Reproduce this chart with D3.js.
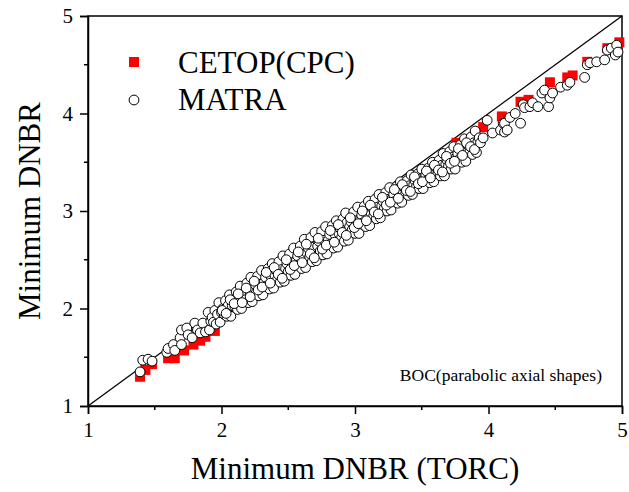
<!DOCTYPE html>
<html>
<head>
<meta charset="utf-8">
<script src="https://cdn.jsdelivr.net/npm/d3@7"></script>
<style>
  body { margin: 0; background: #fff; }
  text { font-family: "Liberation Serif", "Times New Roman", serif; fill: #000; }
</style>
</head>
<body>
<div id="chart"></div>
<script>
// MATRA points: TORC minimum DNBR (x) and MATRA minimum DNBR (y)
const matraX = [
  1.39, 1.41, 1.45, 1.48, 1.59, 1.60, 1.64, 1.65, 1.69, 1.70, 1.70, 1.74, 1.75, 1.78, 1.80, 1.82, 1.84, 1.86, 1.88,
  1.90, 1.91, 1.92, 1.93, 1.94, 1.95, 1.96, 1.97, 1.98, 1.99, 2.00, 2.01, 2.02, 2.03, 2.04, 2.05,
  2.06, 2.07, 2.08, 2.09, 2.10, 2.11, 2.12, 2.13, 2.14, 2.15, 2.16, 2.17, 2.18, 2.19, 2.20, 2.21,
  2.22, 2.23, 2.24, 2.25, 2.26, 2.27, 2.28, 2.29, 2.30, 2.31, 2.32, 2.33, 2.34, 2.35, 2.36, 2.37,
  2.38, 2.39, 2.40, 2.41, 2.42, 2.43, 2.44, 2.45, 2.46, 2.47, 2.48, 2.49, 2.50, 2.51, 2.52, 2.53,
  2.54, 2.55, 2.56, 2.57, 2.58, 2.59, 2.60, 2.61, 2.62, 2.63, 2.64, 2.65, 2.66, 2.67, 2.68, 2.69,
  2.70, 2.71, 2.72, 2.73, 2.74, 2.75, 2.76, 2.77, 2.78, 2.79, 2.80, 2.81, 2.82, 2.83, 2.84, 2.85,
  2.86, 2.87, 2.88, 2.89, 2.90, 2.91, 2.92, 2.93, 2.94, 2.95, 2.96, 2.97, 2.98, 2.99, 3.00, 3.01,
  3.02, 3.03, 3.04, 3.05, 3.06, 3.07, 3.08, 3.09, 3.10, 3.11, 3.12, 3.13, 3.14, 3.15, 3.16, 3.17,
  3.18, 3.19, 3.20, 3.21, 3.22, 3.23, 3.24, 3.25, 3.26, 3.27, 3.28, 3.29, 3.30, 3.31, 3.32, 3.33,
  3.34, 3.35, 3.36, 3.37, 3.38, 3.39, 3.40, 3.41, 3.42, 3.43, 3.44, 3.45, 3.46, 3.47, 3.48, 3.49,
  3.50, 3.51, 3.52, 3.53, 3.54, 3.55, 3.56, 3.57, 3.58, 3.59, 3.60, 3.61, 3.62, 3.63, 3.64, 3.65,
  3.66, 3.67, 3.68, 3.69, 3.70, 3.71, 3.72, 3.73, 3.74, 3.75, 3.76, 3.77, 3.78, 3.79, 3.80, 3.81,
  3.82, 3.83, 3.84, 3.85, 3.86, 3.87, 3.88, 3.89, 3.90, 3.91, 3.92, 3.93,
  2.005, 2.035, 2.065, 2.095, 2.125, 2.155, 2.185, 2.215, 2.245, 2.275, 2.305, 2.335, 2.365, 2.395, 2.425, 2.455,
  2.485, 2.515, 2.545, 2.575, 2.605, 2.635, 2.665, 2.695, 2.725, 2.755, 2.785, 2.815, 2.845, 2.875, 2.905, 2.935,
  2.965, 2.995, 3.025, 3.055, 3.085, 3.115, 3.145, 3.175, 3.205, 3.235, 3.265, 3.295, 3.325, 3.355, 3.385, 3.415,
  3.445, 3.475, 3.505, 3.535, 3.565, 3.595, 3.625, 3.655, 3.685, 3.715, 3.745, 3.775, 3.805, 3.835, 3.865, 3.895,
  3.94, 3.96, 3.99, 4.03, 4.09, 4.11, 4.12, 4.12, 4.14, 4.16, 4.20, 4.24, 4.26, 4.27, 4.31, 4.33,
  4.37, 4.40, 4.42, 4.45, 4.46, 4.48, 4.54, 4.59, 4.61, 4.72, 4.74, 4.76, 4.81, 4.87, 4.89, 4.92,
  4.95, 4.96, 4.97
];
const matraY = [
  1.35, 1.47, 1.48, 1.46, 1.55, 1.59, 1.63, 1.57, 1.70, 1.63, 1.78, 1.80, 1.73, 1.70, 1.85, 1.78, 1.75, 1.85, 1.76,
  1.96, 1.78, 1.87, 1.91, 1.86, 1.98, 1.84, 1.94, 2.06, 1.86, 1.96, 2.00, 1.94, 2.08, 1.92, 2.03,
  2.14, 1.92, 2.03, 2.07, 2.02, 2.17, 1.99, 2.10, 2.23, 2.00, 2.12, 2.16, 2.09, 2.26, 2.06, 2.18,
  2.32, 2.07, 2.20, 2.25, 2.16, 2.33, 2.13, 2.25, 2.39, 2.14, 2.27, 2.32, 2.23, 2.41, 2.20, 2.33,
  2.46, 2.21, 2.34, 2.39, 2.30, 2.48, 2.27, 2.40, 2.54, 2.28, 2.41, 2.46, 2.38, 2.56, 2.34, 2.47,
  2.62, 2.35, 2.49, 2.54, 2.45, 2.64, 2.41, 2.55, 2.71, 2.42, 2.57, 2.62, 2.53, 2.73, 2.48, 2.63,
  2.78, 2.49, 2.64, 2.69, 2.59, 2.79, 2.55, 2.70, 2.84, 2.56, 2.70, 2.76, 2.66, 2.85, 2.62, 2.76,
  2.90, 2.63, 2.77, 2.82, 2.73, 2.92, 2.69, 2.98, 2.88, 2.70, 2.84, 2.89, 2.81, 2.99, 2.77, 2.90,
  3.04, 2.77, 2.91, 2.96, 2.88, 3.05, 2.84, 2.97, 3.10, 2.85, 2.98, 3.03, 2.95, 3.12, 2.92, 3.04,
  3.17, 2.93, 3.05, 3.10, 3.03, 3.19, 3.00, 3.12, 3.24, 3.01, 3.13, 3.17, 3.10, 3.25, 3.08, 3.19,
  3.30, 3.09, 3.20, 3.24, 3.18, 3.31, 3.16, 3.26, 3.37, 3.17, 3.27, 3.31, 3.25, 3.38, 3.23, 3.33,
  3.43, 3.23, 3.33, 3.37, 3.31, 3.44, 3.29, 3.39, 3.50, 3.30, 3.40, 3.44, 3.38, 3.52, 3.36, 3.47,
  3.59, 3.36, 3.48, 3.52, 3.46, 3.61, 3.43, 3.55, 3.66, 3.43, 3.55, 3.59, 3.53, 3.68, 3.50, 3.62,
  3.74, 3.51, 3.63, 3.67, 3.61, 3.76, 3.58, 3.70, 3.82, 3.60, 3.71, 3.75,
  1.98, 1.95, 2.09, 2.05, 2.15, 2.06, 2.21, 2.12, 2.28, 2.19, 2.22, 2.37, 2.26, 2.42, 2.35, 2.31,
  2.50, 2.40, 2.44, 2.58, 2.47, 2.66, 2.56, 2.52, 2.72, 2.61, 2.65, 2.80, 2.68, 2.86, 2.78, 2.75,
  2.93, 2.83, 2.87, 3.00, 2.90, 3.06, 2.99, 2.97, 3.14, 3.06, 3.09, 3.22, 3.13, 3.27, 3.21, 3.20,
  3.35, 3.28, 3.30, 3.41, 3.34, 3.47, 3.42, 3.40, 3.56, 3.49, 3.51, 3.64, 3.57, 3.70, 3.66, 3.63,
  3.70, 3.75, 3.93, 3.80, 3.83, 3.90, 3.90, 3.81, 3.83, 3.96, 4.00, 3.90, 4.09, 4.06, 4.07, 4.11,
  4.07, 4.21, 4.24, 4.07, 4.16, 4.21, 4.27, 4.29, 4.32, 4.37, 4.50, 4.52, 4.53, 4.55, 4.65, 4.67,
  4.60, 4.70, 4.63
];
// CETOP(CPC) points: TORC minimum DNBR (x) and CETOP minimum DNBR (y)
const cetopX = [
  1.39, 1.43, 1.48, 1.60, 1.62, 1.65, 1.72, 1.79, 1.84, 1.88, 1.95,
  2.05, 2.20, 2.35, 2.50, 2.62, 2.75, 2.88, 3.00, 3.12, 3.25, 3.40, 3.55, 3.66,
  3.76, 3.79, 3.96, 4.10, 4.24, 4.30, 4.46, 4.59, 4.63, 4.74, 4.89, 4.98
];
const cetopY = [
  1.30, 1.37, 1.43, 1.49, 1.50, 1.49, 1.57, 1.63, 1.67, 1.71, 1.77,
  1.97, 2.12, 2.27, 2.42, 2.53, 2.64, 2.76, 2.86, 2.98, 3.08, 3.22, 3.36, 3.46,
  3.70, 3.68, 3.86, 3.97, 4.12, 4.14, 4.32, 4.37, 4.39, 4.53, 4.67, 4.73
];
const axisTicks = [1, 2, 3, 4, 5];
const minorTicks = [1.5, 2.5, 3.5, 4.5];
const seriesNames = ['CETOP(CPC)', 'MATRA'];
const note = 'BOC(parabolic axial shapes)';

const width = 629;
const height = 492;
const margin = { top: 16, right: 7, bottom: 86, left: 88 };
const innerW = width - margin.left - margin.right;
const innerH = height - margin.top - margin.bottom;

const svg = d3.select('#chart')
  .append('svg')
  .attr('width', width)
  .attr('height', height);

const g = svg.append('g')
  .attr('transform', `translate(${margin.left},${margin.top})`);

const x = d3.scaleLinear().domain([1, 5]).range([0, innerW]);
const y = d3.scaleLinear().domain([1, 5]).range([innerH, 0]);

// frame (top and right sides carry no ticks)
g.append('rect')
  .attr('width', innerW)
  .attr('height', innerH)
  .attr('fill', 'none')
  .attr('stroke', '#000')
  .attr('stroke-width', 1.5);

// 1:1 line
g.append('line')
  .attr('x1', x(1)).attr('y1', y(1))
  .attr('x2', x(5)).attr('y2', y(5))
  .attr('stroke', '#000')
  .attr('stroke-width', 1.3);

// CETOP squares go under the MATRA circles
const sq = 10;
g.append('g')
  .selectAll('rect')
  .data(cetopX)
  .enter()
  .append('rect')
  .attr('x', d => x(d) - sq / 2)
  .attr('y', (d, i) => y(cetopY[i]) - sq / 2)
  .attr('width', sq)
  .attr('height', sq)
  .attr('fill', '#ff0000');

g.append('g')
  .selectAll('circle')
  .data(matraX)
  .enter()
  .append('circle')
  .attr('cx', d => x(d))
  .attr('cy', (d, i) => y(matraY[i]))
  .attr('r', 4.9)
  .attr('fill', '#fff')
  .attr('stroke', '#000')
  .attr('stroke-width', 1);

// axes
const xAxis = g.append('g')
  .attr('transform', `translate(0,${innerH})`)
  .call(d3.axisBottom(x).tickValues(axisTicks).tickFormat(d3.format('d')).tickSize(8).tickPadding(8));
g.append('g')
  .attr('transform', `translate(0,${innerH})`)
  .selectAll('line')
  .data(minorTicks)
  .enter()
  .append('line')
  .attr('x1', d => x(d)).attr('x2', d => x(d))
  .attr('y1', 0).attr('y2', 4)
  .attr('stroke', '#000')
  .attr('stroke-width', 1.5);

const yAxis = g.append('g')
  .call(d3.axisLeft(y).tickValues(axisTicks).tickFormat(d3.format('d')).tickSize(8).tickPadding(7));
g.append('g')
  .selectAll('line')
  .data(minorTicks)
  .enter()
  .append('line')
  .attr('x1', -4).attr('x2', 0)
  .attr('y1', d => y(d)).attr('y2', d => y(d))
  .attr('stroke', '#000')
  .attr('stroke-width', 1.5);

[xAxis, yAxis].forEach(a => {
  a.select('.domain').attr('stroke-width', 1.5);
  a.selectAll('.tick line').attr('stroke-width', 1.5);
  a.selectAll('.tick text')
    .style('font-family', '"Liberation Serif", serif')
    .style('font-size', '21px');
});

// axis titles
svg.append('text')
  .attr('x', margin.left + innerW / 2)
  .attr('y', 479)
  .attr('text-anchor', 'middle')
  .style('font-size', '31px')
  .text('Minimum DNBR (TORC)');

svg.append('text')
  .attr('transform', `translate(40,${margin.top + innerH / 2}) rotate(-90)`)
  .attr('text-anchor', 'middle')
  .style('font-size', '31px')
  .text('Minimum DNBR');

// legend
const legend = svg.append('g');
legend.append('rect')
  .attr('x', 129).attr('y', 57)
  .attr('width', 10).attr('height', 10)
  .attr('fill', '#ff0000');
legend.append('circle')
  .attr('cx', 134).attr('cy', 100)
  .attr('r', 4.9)
  .attr('fill', '#fff')
  .attr('stroke', '#000');
legend.selectAll('text.lg')
  .data(seriesNames)
  .enter()
  .append('text')
  .attr('class', 'lg')
  .attr('x', 178)
  .attr('y', (d, i) => 73 + i * 37)
  .style('font-size', '31px')
  .text(d => d);

// annotation
svg.append('text')
  .attr('x', 602)
  .attr('y', 381)
  .attr('text-anchor', 'end')
  .style('font-size', '17.5px')
  .text(note);
</script>
</body>
</html>
